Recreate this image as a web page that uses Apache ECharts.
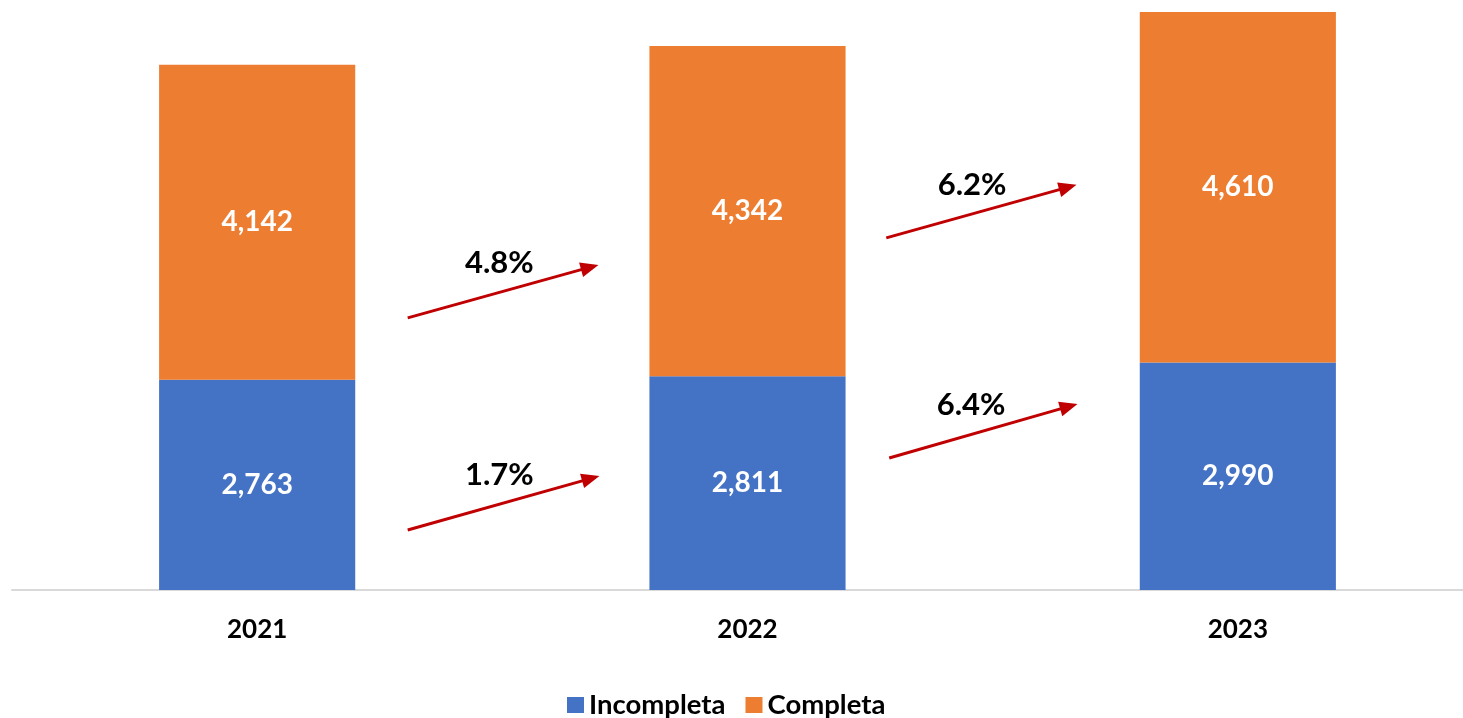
<!DOCTYPE html>
<html>
<head>
<meta charset="utf-8">
<script src="https://cdn.jsdelivr.net/npm/echarts@6/dist/echarts.min.js"></script>
<style>
html,body{margin:0;padding:0;background:#fff;}
#c{width:1463px;height:718px;}
</style>
</head>
<body>
<div id="c"></div>
<script>
const categories = ['2021', '2022', '2023'];
const incompleta = [2763, 2811, 2990];
const completa = [4142, 4342, 4610];
const growthLabels = ['1.7%', '4.8%', '6.2%', '6.4%'];
const growthFrom = [0, 0, 1, 1];
const growthSeries = ['Incompleta', 'Completa', 'Completa', 'Incompleta'];

// annotation layout (arrow anchors in category-fraction / value space)
const arrowLayout = [
  {x0: 0.307, v0: 789,  x1: 0.698, v1: 1499, lx: 0.494, lv: 1513},
  {x0: 0.307, v0: 3578, x1: 0.696, v1: 4275, lx: 0.494, lv: 4301},
  {x0: 0.283, v0: 4630, x1: 0.671, v1: 5327, lx: 0.458, lv: 5327},
  {x0: 0.289, v0: 1736, x1: 0.673, v1: 2446, lx: 0.456, lv: 2433}
];

const FONT = 'Lato, "Open Sans", sans-serif';
const chart = echarts.init(document.getElementById('c'));
const labelStyle = {show: true, position: 'inside', color: '#fff', fontFamily: FONT, fontWeight: 'bold', fontSize: 28,
  formatter: p => p.value.toLocaleString('en-US')};

chart.setOption({
  animation: false,
  backgroundColor: '#fff',
  grid: {left: 12, top: 12, width: 1471, height: 578, outerBoundsMode: 'none', containLabel: false},
  legend: {
    bottom: -6, left: 562, itemWidth: 17, itemHeight: 16, itemGap: 20,
    icon: 'rect',
    textStyle: {color: '#000', fontFamily: FONT, fontWeight: 'bold', fontSize: 27.5},
    data: ['Incompleta', 'Completa']
  },
  xAxis: {
    type: 'category', data: categories,
    axisLine: {lineStyle: {color: '#D9D9D9', width: 2}},
    axisTick: {show: false},
    axisLabel: {color: '#000', fontFamily: FONT, fontWeight: 'bold', fontSize: 26, margin: 27}
  },
  yAxis: {type: 'value', min: 0, max: 7600, show: false, splitLine: {show: false}},
  series: [
    {name: 'Incompleta', type: 'bar', stack: 't', barWidth: '40%', data: incompleta,
     itemStyle: {color: '#4472C4'}, label: labelStyle},
    {name: 'Completa', type: 'bar', stack: 't', barWidth: '40%', data: completa,
     itemStyle: {color: '#ED7D31'}, label: labelStyle}
  ]
});

function px(cat, frac, val) {
  const c0 = chart.convertToPixel({xAxisIndex: 0}, categories[0]);
  const c1 = chart.convertToPixel({xAxisIndex: 0}, categories[1]);
  const base = chart.convertToPixel({xAxisIndex: 0}, categories[cat]);
  const y = chart.convertToPixel({yAxisIndex: 0}, val);
  return [base + (c1 - c0) * frac, y];
}

const elements = [];
arrowLayout.forEach((a, i) => {
  const f = growthFrom[i];
  const p0 = px(f, a.x0, a.v0);
  const p1 = px(f, a.x1, a.v1);
  const ang = Math.atan2(p1[1] - p0[1], p1[0] - p0[0]);
  const headLen = 18, headW = 7.5;
  const bx = p1[0] - headLen * Math.cos(ang), by = p1[1] - headLen * Math.sin(ang);
  const nx = -Math.sin(ang), ny = Math.cos(ang);
  elements.push({type: 'line', shape: {x1: p0[0], y1: p0[1], x2: bx + 2 * Math.cos(ang), y2: by + 2 * Math.sin(ang)},
    style: {stroke: '#C00000', lineWidth: 3}, z: 10});
  elements.push({type: 'polygon', shape: {points: [[p1[0], p1[1]], [bx + nx * headW, by + ny * headW], [bx - nx * headW, by - ny * headW]]},
    style: {fill: '#C00000'}, z: 10});
  const lp = px(f, a.lx, a.lv);
  elements.push({type: 'text', x: lp[0], y: lp[1],
    style: {text: growthLabels[i], fill: '#000', font: 'bold 31px ' + FONT, align: 'center', verticalAlign: 'middle'}, z: 11});
});
chart.setOption({graphic: {elements: elements}});
</script>
</body>
</html>
